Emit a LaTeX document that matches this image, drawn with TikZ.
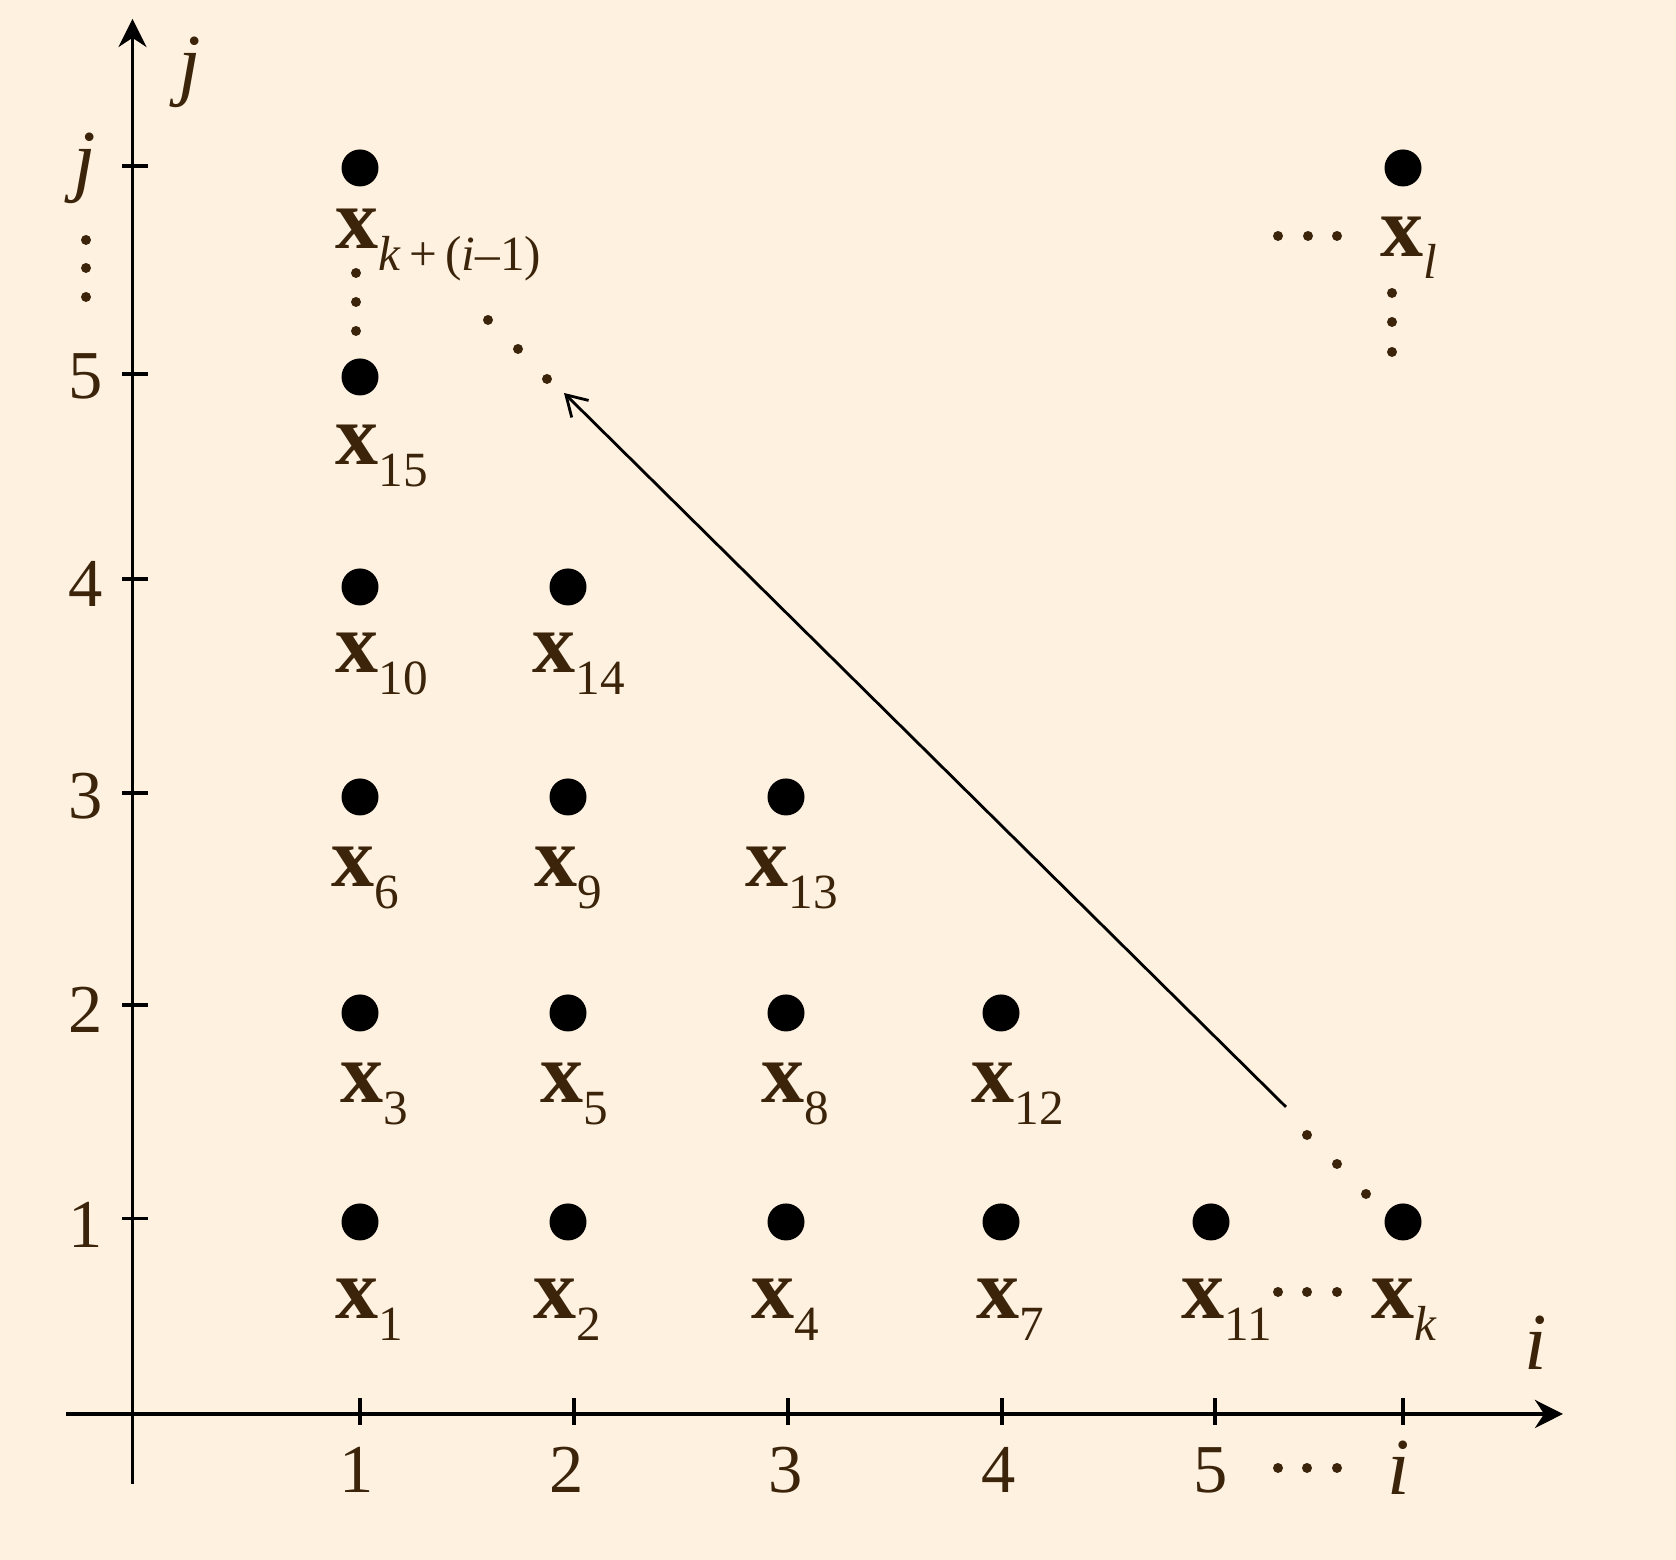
\documentclass[tikz,border=0pt]{standalone}
\usepackage{fontspec}
\setmainfont{Liberation Serif}
\usepackage{tikz}
\usetikzlibrary{arrows.meta}

\definecolor{paper}{RGB}{254,241,224}
\definecolor{ink}{RGB}{59,36,10}

\newcommand{\xsub}[1]{\textbf{x}\raisebox{-6.2pt}{\fontsize{14}{16}\selectfont #1}}

\begin{document}
\begin{tikzpicture}[
        dot/.style={circle, fill=black, inner sep=0pt, minimum size=3.7mm},
        pip/.style={circle, fill=ink, inner sep=0pt, minimum size=1mm},
        lab/.style={anchor=base west, inner sep=0pt, text=ink, font=\fontsize{24.5}{28}\selectfont},
        num/.style={text=ink, inner sep=0pt, font=\fontsize{19.5}{22}\selectfont},
        var/.style={text=ink, inner sep=0pt, font=\fontsize{23}{26}\selectfont\itshape},
        axis/.style={line width=1.1pt, -{Stealth[length=2.8mm, width=2.8mm]}},
        tick/.style={line width=0.9pt}
    ]
        \fill [paper] (0, 0) rectangle (16.76, 15.6);
        \useasboundingbox (0, 0) rectangle (16.76, 15.6);

        \coordinate (Xs) at (0.66, 1.46);
        \coordinate (Xe) at (15.63, 1.46);
        \coordinate (Ys) at (1.325, 0.76);
        \coordinate (Ye) at (1.325, 15.41);

        \draw [axis] (Xs) -- (Xe);
        \draw [axis] (Ys) -- (Ye);

        \draw [tick] (3.60, 1.35) -- (3.60, 1.62);
        \draw [tick] (5.74, 1.35) -- (5.74, 1.62);
        \draw [tick] (7.88, 1.35) -- (7.88, 1.62);
        \draw [tick] (10.02, 1.35) -- (10.02, 1.62);
        \draw [tick] (12.15, 1.35) -- (12.15, 1.62);
        \draw [tick] (14.03, 1.35) -- (14.03, 1.62);

        \draw [tick] (1.22, 3.415) -- (1.48, 3.415);
        \draw [tick] (1.22, 5.55) -- (1.48, 5.55);
        \draw [tick] (1.22, 7.67) -- (1.48, 7.67);
        \draw [tick] (1.22, 9.81) -- (1.48, 9.81);
        \draw [tick] (1.22, 11.86) -- (1.48, 11.86);
        \draw [tick] (1.22, 13.94) -- (1.48, 13.94);

        \node [num] (nx1) at (3.57, 0.90) {1};
        \node [num] (nx2) at (5.67, 0.90) {2};
        \node [num] (nx3) at (7.86, 0.90) {3};
        \node [num] (nx4) at (9.99, 0.90) {4};
        \node [num] (nx5) at (12.11, 0.90) {5};
        \node [var] (nxi) at (13.99, 0.92) {i};

        \node [num, anchor=east] (ny1) at (1.03, 3.35) {1};
        \node [num, anchor=east] (ny2) at (1.03, 5.50) {2};
        \node [num, anchor=east] (ny3) at (1.03, 7.64) {3};
        \node [num, anchor=east] (ny4) at (1.03, 9.76) {4};
        \node [num, anchor=east] (ny5) at (1.03, 11.84) {5};
        \node [var] (nyj) at (0.85, 13.92) {j};

        \node [var] (li) at (15.36, 2.17) {i};
        \node [var] (lj) at (1.90, 14.88) {j};

        \node [dot] (A1) at (3.60, 3.38) {};
        \node [dot] (A2) at (5.68, 3.38) {};
        \node [dot] (A4) at (7.86, 3.38) {};
        \node [dot] (A7) at (10.01, 3.38) {};
        \node [dot] (A11) at (12.11, 3.38) {};
        \node [dot] (Ak) at (14.03, 3.38) {};
        \node [dot] (A3) at (3.60, 5.47) {};
        \node [dot] (A5) at (5.68, 5.47) {};
        \node [dot] (A8) at (7.86, 5.47) {};
        \node [dot] (A12) at (10.01, 5.47) {};
        \node [dot] (A6) at (3.60, 7.63) {};
        \node [dot] (A9) at (5.68, 7.63) {};
        \node [dot] (A13) at (7.86, 7.63) {};
        \node [dot] (A10) at (3.60, 9.73) {};
        \node [dot] (A14) at (5.68, 9.73) {};
        \node [dot] (A15) at (3.60, 11.83) {};
        \node [dot] (Aki) at (3.60, 13.92) {};
        \node [dot] (Al) at (14.03, 13.92) {};

        \node [lab] (L1) at (3.35, 2.41) {\xsub{1}};
        \node [lab] (L2) at (5.33, 2.41) {\xsub{2}};
        \node [lab] (L4) at (7.51, 2.41) {\xsub{4}};
        \node [lab] (L7) at (9.76, 2.41) {\xsub{7}};
        \node [lab] (L11) at (11.81, 2.41) {\xsub{11}};
        \node [lab] (Lk) at (13.71, 2.41) {\xsub{\textit{k}}};
        \node [lab] (L3) at (3.40, 4.57) {\xsub{3}};
        \node [lab] (L5) at (5.40, 4.57) {\xsub{5}};
        \node [lab] (L8) at (7.61, 4.57) {\xsub{8}};
        \node [lab] (L12) at (9.71, 4.57) {\xsub{12}};
        \node [lab] (L6) at (3.31, 6.73) {\xsub{6}};
        \node [lab] (L9) at (5.34, 6.73) {\xsub{9}};
        \node [lab] (L13) at (7.45, 6.73) {\xsub{13}};
        \node [lab] (L10) at (3.35, 8.87) {\xsub{10}};
        \node [lab] (L14) at (5.32, 8.87) {\xsub{14}};
        \node [lab] (L15) at (3.35, 10.95) {\xsub{15}};
        \node [lab] (Lki) at (3.35, 13.11) {\xsub{\textit{k}\,+\,(\textit{i}–1)}};
        \node [lab] (Ll) at (13.80, 13.03) {\xsub{\textit{l}}};

        \node [pip] (P1) at (12.78, 2.68) {};
        \node [pip] (P2) at (13.07, 2.68) {};
        \node [pip] (P3) at (13.37, 2.68) {};
        \node [pip] (P4) at (12.78, 0.92) {};
        \node [pip] (P5) at (13.07, 0.92) {};
        \node [pip] (P6) at (13.37, 0.92) {};
        \node [pip] (P7) at (12.78, 13.24) {};
        \node [pip] (P8) at (13.08, 13.24) {};
        \node [pip] (P9) at (13.37, 13.24) {};
        \node [pip] (P10) at (13.92, 12.67) {};
        \node [pip] (P11) at (13.92, 12.38) {};
        \node [pip] (P12) at (13.92, 12.08) {};
        \node [pip] (P13) at (13.07, 4.25) {};
        \node [pip] (P14) at (13.37, 3.96) {};
        \node [pip] (P15) at (13.66, 3.66) {};
        \node [pip] (P16) at (4.88, 12.40) {};
        \node [pip] (P17) at (5.18, 12.11) {};
        \node [pip] (P18) at (5.47, 11.81) {};
        \node [pip] (P19) at (3.56, 12.87) {};
        \node [pip] (P20) at (3.56, 12.58) {};
        \node [pip] (P21) at (3.56, 12.29) {};
        \node [pip] (P22) at (0.86, 13.20) {};
        \node [pip] (P23) at (0.86, 12.92) {};
        \node [pip] (P24) at (0.86, 12.63) {};

        \coordinate (As) at (12.86, 4.53);
        \coordinate (Ae) at (5.64, 11.67);
        \draw [line width=0.8pt, -{Straight Barb[length=2mm, width=2.4mm]}] (As) -- (Ae);
    \end{tikzpicture}
\end{document}
